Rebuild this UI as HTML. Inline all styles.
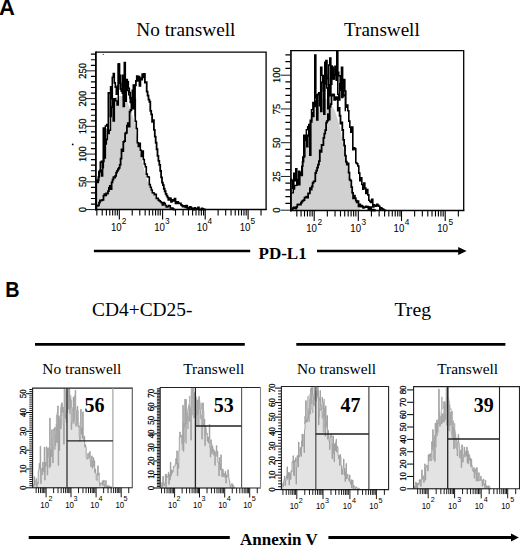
<!DOCTYPE html>
<html><head><meta charset="utf-8"><style>html,body{margin:0;padding:0;background:#fff;width:520px;height:546px;overflow:hidden}</style></head><body>
<svg width="520" height="546" viewBox="0 0 520 546" style="display:block">
<rect width="520" height="546" fill="#fff"/>
<circle cx="72.7" cy="144.4" r="0.9" fill="#000"/>
<circle cx="103.3" cy="54.4" r="0.6" fill="#444"/>
<text x="-1.00" y="15.20" font-family="Liberation Sans" font-size="22" font-weight="bold" text-anchor="start" fill="#000" >A</text>
<text transform="translate(5.3,296.8) scale(0.88,1)" font-family="Liberation Sans" font-size="22.5" font-weight="bold" fill="#000">B</text>
<text x="185.90" y="35.90" font-family="Liberation Serif" font-size="19.3" font-weight="normal" text-anchor="middle" fill="#000" >No transwell</text>
<text x="381.90" y="35.90" font-family="Liberation Serif" font-size="19.1" font-weight="normal" text-anchor="middle" fill="#000" >Transwell</text>
<text x="142.30" y="316.20" font-family="Liberation Serif" font-size="19.4" font-weight="normal" text-anchor="middle" fill="#000" >CD4+CD25-</text>
<text x="412.75" y="315.60" font-family="Liberation Serif" font-size="19.7" font-weight="normal" text-anchor="middle" fill="#000" >Treg</text>
<text x="81.85" y="373.80" font-family="Liberation Serif" font-size="15.4" font-weight="normal" text-anchor="middle" fill="#000" >No transwell</text>
<text x="213.70" y="373.80" font-family="Liberation Serif" font-size="15.4" font-weight="normal" text-anchor="middle" fill="#000" >Transwell</text>
<text x="336.50" y="373.80" font-family="Liberation Serif" font-size="15.4" font-weight="normal" text-anchor="middle" fill="#000" >No transwell</text>
<text x="467.65" y="373.80" font-family="Liberation Serif" font-size="15.4" font-weight="normal" text-anchor="middle" fill="#000" >Transwell</text>
<text x="282.60" y="258.90" font-family="Liberation Serif" font-size="17" font-weight="bold" text-anchor="middle" fill="#000" >PD-L1</text>
<text x="278.90" y="544.60" font-family="Liberation Serif" font-size="17" font-weight="bold" text-anchor="middle" fill="#000" >Annexin V</text>
<line x1="93.90" y1="251.00" x2="250.20" y2="251.00" stroke="#000" stroke-width="2.6"/>
<line x1="317.00" y1="251.00" x2="459.50" y2="251.00" stroke="#000" stroke-width="2.6"/>
<path d="M458.2,247.0 L466.6,251.0 L458.2,255.0Z" fill="#000"/>
<line x1="35.00" y1="344.30" x2="244.80" y2="344.30" stroke="#000" stroke-width="2.7"/>
<line x1="296.30" y1="344.30" x2="505.40" y2="344.30" stroke="#000" stroke-width="2.7"/>
<line x1="28.70" y1="537.50" x2="229.80" y2="537.50" stroke="#000" stroke-width="3.0"/>
<line x1="328.40" y1="537.50" x2="512.00" y2="537.50" stroke="#000" stroke-width="3.0"/>
<path d="M511.0,533.5 L518.8,537.5 L511.0,541.5Z" fill="#000"/>
<path d="M96.30,209.60 L96.30,181.00 L99.00,177.00 L101.00,167.00 L104.00,149.00 L106.00,139.00 L108.00,125.00 L110.00,111.00 L112.00,101.00 L114.00,98.00 L117.00,97.00 L120.00,96.00 L123.00,96.00 L126.00,99.00 L129.00,106.00 L132.00,114.00 L134.50,122.00 L136.50,135.00 L138.50,146.00 L141.00,156.00 L143.50,167.00 L146.50,178.00 L150.00,188.00 L154.00,195.00 L159.00,201.00 L165.00,205.00 L171.00,208.00 L174.00,209.60Z" fill="#d1d1d1"/>
<path d="M96.30,209.60V205.63H97.20V205.82H98.10V205.28H99.00V202.56H99.90V200.44H100.80V200.67H101.70V200.16H102.60V199.79H103.50V195.62H104.40V194.12H105.30V195.31H106.20V193.43H107.10V193.49H108.00V191.13H108.90V187.85H109.80V185.98H110.70V189.07H111.60V182.40H112.50V179.69H113.40V177.21H114.30V177.68H115.20V175.89H116.10V172.62H117.00V170.85H117.90V169.23H118.80V167.81H119.70V164.92H120.60V158.58H121.50V149.49H122.40V151.16H123.30V141.97H124.20V141.10H125.10V133.39H126.00V132.76H126.90V125.75H127.80V123.11H128.70V126.70H129.60V111.62H130.50V110.00H131.40V99.03H132.30V97.59H133.20V95.23H134.10V87.50H135.00V85.43H135.90V80.95H136.80V76.11H137.70V80.96H138.60V76.61H139.50V85.96H140.40V78.25H141.30V79.71H142.20V74.23H143.10V77.37H144.00V73.84H144.90V82.58H145.80V82.19H146.70V91.54H147.60V95.59H148.50V99.54H149.40V101.75H150.30V110.92H151.20V114.31H152.10V121.92H153.00V120.23H153.90V129.78H154.80V136.69H155.70V142.76H156.60V149.25H157.50V155.96H158.40V160.95H159.30V164.79H160.20V170.78H161.10V177.37H162.00V182.62H162.90V185.13H163.80V188.74H164.70V191.27H165.60V193.95H166.50V195.55H167.40V197.42H168.30V199.78H169.20V198.12H170.10V198.39H171.00V201.79H171.90V199.79H172.80V200.80H173.70V200.80H174.60V198.70H175.50V203.47H176.40V203.18H177.30V201.85H178.20V203.26H179.10V203.44H180.00V203.29H180.90V204.95H181.80V205.71H182.70V206.58H183.60V206.39H184.50V205.98H185.40V207.32H186.30V205.68H187.20V207.74H188.10V208.64H189.00V207.73H189.90V206.80H190.80V207.59H191.70V208.53H192.60V208.86H193.50V209.58H194.40V207.94H195.30V208.65H196.20V209.12H197.10V208.64H198.00V207.29H198.90V209.35H199.80V209.60H200.70V209.55H201.60V208.43H202.50V208.86H203.40V209.37H204.30V209.60H205.20V209.60H206.00V209.60" stroke="#000" stroke-width="1.8" fill="none"/>
<path d="M96.30,209.60V179.95H97.30V182.52H98.30V177.02H99.30V171.98H100.30V162.20H101.30V161.42H102.30V167.69H103.30V128.00H104.30V157.87H105.30V144.07H106.30V139.37H107.30V129.27H108.30V92.87H109.30V93.00H110.30V116.53H111.30V107.15H112.30V77.24H113.30V73.61H114.30V82.91H115.30V87.21H116.30V94.21H117.30V86.08H118.30V64.00H119.30V75.34H120.30V89.04H121.30V91.17H122.30V75.29H123.30V106.43H124.30V62.50H125.30V101.15H126.30V79.49H127.30V81.68H128.30V88.38H129.30V92.44H130.30V102.41H131.30V98.03H132.30V90.20H133.30V84.93H134.30V99.01H135.30V121.18H136.30V128.55H137.30V142.68H138.30V146.46H139.30V143.25H140.30V150.19H141.30V156.43H142.30V151.09H143.30V159.50H144.30V164.03H145.30V166.68H146.30V174.09H147.30V176.78H148.30V177.00H149.30V184.62H150.30V187.29H151.30V190.04H152.30V192.79H153.30V193.03H154.30V194.67H155.30V194.25H156.30V198.35H157.30V198.35H158.30V200.11H159.30V200.86H160.30V201.81H161.30V202.77H162.30V204.93H163.30V202.54H164.30V203.60H165.30V205.48H166.30V206.85H167.30V206.69H168.30V205.62H169.30V205.88H170.30V207.98H171.30V207.97H172.30V208.30H173.30V209.36H174.30V209.60H175.00V209.60" stroke="#000" stroke-width="1.6" fill="none"/>
<path d="M97.50,180.57H98.80V171.17H100.10V169.97H101.40V175.93H102.70V161.50H104.00V154.32H105.30V125.99H106.60V124.44H107.90V133.58H109.20V130.26H110.50V86.74H111.80V98.80H113.10V120.97H114.40V98.58H115.70V100.85H117.00V105.07H118.30V64.00H119.60V83.26H120.90V89.58H122.20V93.36H123.50V99.22H124.80V94.39H126.10V80.36H127.40V90.53H128.70V94.89H130.00V98.30H131.30V99.05H132.60V108.69H133.90V88.59H135.20V115.82H135.50" stroke="#000" stroke-width="1.4" fill="none"/>
<path d="M95.75,52.1H266.1V209.6" stroke="#000" stroke-width="1.3" fill="none"/>
<line x1="95.90" y1="51.50" x2="95.90" y2="210.50" stroke="#000" stroke-width="1.8"/>
<line x1="95.00" y1="209.60" x2="266.80" y2="209.60" stroke="#000" stroke-width="1.5"/>
<path d="M90.90,204.05H95.20M90.90,198.50H95.20M90.90,192.95H95.20M90.90,187.40H95.20M90.90,176.30H95.20M90.90,170.75H95.20M90.90,165.20H95.20M90.90,159.65H95.20M90.90,148.55H95.20M90.90,143.00H95.20M90.90,137.45H95.20M90.90,131.90H95.20M90.90,120.80H95.20M90.90,115.25H95.20M90.90,109.70H95.20M90.90,104.15H95.20M90.90,93.05H95.20M90.90,87.50H95.20M90.90,81.95H95.20M90.90,76.40H95.20M90.90,65.30H95.20M90.90,59.75H95.20M90.90,54.20H95.20" stroke="#000" stroke-width="1.2" fill="none"/>
<path d="M85.60,209.60H95.20M85.60,181.85H95.20M85.60,154.10H95.20M85.60,126.35H95.20M85.60,98.60H95.20M85.60,70.85H95.20" stroke="#000" stroke-width="0.9" fill="none"/>
<text transform="translate(82.20,209.60) rotate(-90)" font-family="Liberation Serif" font-size="10.5" text-anchor="middle" dominant-baseline="central" fill="#000" stroke="#000" stroke-width="0.3">0</text>
<text transform="translate(82.20,181.85) rotate(-90)" font-family="Liberation Serif" font-size="10.5" text-anchor="middle" dominant-baseline="central" fill="#000" stroke="#000" stroke-width="0.3">50</text>
<text transform="translate(82.20,154.10) rotate(-90)" font-family="Liberation Serif" font-size="10.5" text-anchor="middle" dominant-baseline="central" fill="#000" stroke="#000" stroke-width="0.3">100</text>
<text transform="translate(82.20,126.35) rotate(-90)" font-family="Liberation Serif" font-size="10.5" text-anchor="middle" dominant-baseline="central" fill="#000" stroke="#000" stroke-width="0.3">150</text>
<text transform="translate(82.20,98.60) rotate(-90)" font-family="Liberation Serif" font-size="10.5" text-anchor="middle" dominant-baseline="central" fill="#000" stroke="#000" stroke-width="0.3">200</text>
<text transform="translate(82.20,70.85) rotate(-90)" font-family="Liberation Serif" font-size="10.5" text-anchor="middle" dominant-baseline="central" fill="#000" stroke="#000" stroke-width="0.3">250</text>
<path d="M96.85,209.60V215.40M102.22,209.60V215.40M106.38,209.60V215.40M109.78,209.60V215.40M112.65,209.60V215.40M115.14,209.60V215.40M117.34,209.60V215.40M132.22,209.60V215.40M139.78,209.60V215.40M145.15,209.60V215.40M149.31,209.60V215.40M152.71,209.60V215.40M155.58,209.60V215.40M158.07,209.60V215.40M160.27,209.60V215.40M175.52,209.60V215.40M183.08,209.60V215.40M188.45,209.60V215.40M192.61,209.60V215.40M196.01,209.60V215.40M198.88,209.60V215.40M201.37,209.60V215.40M203.57,209.60V215.40M218.12,209.60V215.40M225.68,209.60V215.40M231.05,209.60V215.40M235.21,209.60V215.40M238.61,209.60V215.40M241.48,209.60V215.40M243.97,209.60V215.40M246.17,209.60V215.40M261.02,209.60V215.40M119.30,209.60V219.60M162.60,209.60V219.60M205.20,209.60V219.60M248.10,209.60V219.60" stroke="#000" stroke-width="1.1" fill="none"/>
<text transform="translate(116.30,230.80) scale(0.93,1)" font-family="Liberation Sans" font-size="10.4" text-anchor="middle" fill="#000">10</text>
<text x="121.70" y="223.90" font-family="Liberation Sans" font-size="8.3" font-weight="normal" text-anchor="start" fill="#000" >2</text>
<text transform="translate(159.60,230.80) scale(0.93,1)" font-family="Liberation Sans" font-size="10.4" text-anchor="middle" fill="#000">10</text>
<text x="165.00" y="223.90" font-family="Liberation Sans" font-size="8.3" font-weight="normal" text-anchor="start" fill="#000" >3</text>
<text transform="translate(202.20,230.80) scale(0.93,1)" font-family="Liberation Sans" font-size="10.4" text-anchor="middle" fill="#000">10</text>
<text x="207.60" y="223.90" font-family="Liberation Sans" font-size="8.3" font-weight="normal" text-anchor="start" fill="#000" >4</text>
<text transform="translate(245.10,230.80) scale(0.93,1)" font-family="Liberation Sans" font-size="10.4" text-anchor="middle" fill="#000">10</text>
<text x="250.50" y="223.90" font-family="Liberation Sans" font-size="8.3" font-weight="normal" text-anchor="start" fill="#000" >5</text>
<path d="M290.80,210.60 L290.80,190.00 L294.00,188.00 L297.00,182.00 L300.00,174.00 L302.00,166.00 L304.00,155.00 L306.00,142.00 L308.00,130.00 L311.00,116.00 L314.00,105.00 L318.00,100.50 L322.00,99.00 L326.00,99.00 L329.00,101.00 L332.00,106.00 L335.00,111.00 L338.00,120.00 L341.00,132.00 L343.00,145.00 L345.00,158.00 L347.00,168.00 L349.00,179.00 L352.00,190.00 L355.00,198.00 L358.00,205.00 L361.00,210.60Z" fill="#d1d1d1"/>
<path d="M291.00,210.60V210.21H291.90V210.13H292.80V208.15H293.70V207.51H294.60V207.96H295.50V208.62H296.40V206.84H297.30V204.70H298.20V204.46H299.10V204.44H300.00V204.70H300.90V202.73H301.80V201.41H302.70V200.69H303.60V200.14H304.50V197.67H305.40V197.51H306.30V196.71H307.20V197.66H308.10V193.46H309.00V193.38H309.90V188.16H310.80V189.71H311.70V186.49H312.60V182.89H313.50V181.64H314.40V181.14H315.30V173.02H316.20V170.66H317.10V167.70H318.00V164.56H318.90V161.18H319.80V150.42H320.70V151.73H321.60V144.91H322.50V145.12H323.40V137.89H324.30V133.67H325.20V130.03H326.10V122.63H327.00V120.88H327.90V114.04H328.80V119.50H329.70V106.48H330.60V104.07H331.50V95.52H332.40V94.42H333.30V94.63H334.20V99.82H335.10V99.37H336.00V97.20H336.90V97.62H337.80V110.65H338.70V107.81H339.60V115.73H340.50V123.71H341.40V122.39H342.30V129.98H343.20V139.96H344.10V145.58H345.00V155.64H345.90V161.76H346.80V164.59H347.70V163.44H348.60V172.64H349.50V179.60H350.40V180.70H351.30V187.17H352.20V192.82H353.10V198.29H354.00V195.62H354.90V198.19H355.80V200.55H356.70V202.24H357.60V201.27H358.50V206.29H359.40V204.30H360.30V206.57H361.20V205.55H362.10V206.45H363.00V207.95H363.90V207.31H364.80V207.07H365.70V206.36H366.60V206.98H367.50V206.66H368.40V209.78H369.30V207.34H370.20V207.03H371.10V210.35H372.00V210.40H372.90V209.76H373.80V210.60H374.70V210.24H375.00V210.60" stroke="#000" stroke-width="1.8" fill="none"/>
<path d="M290.80,210.60V179.52H291.80V180.73H292.80V188.10H293.80V173.42H294.80V180.73H295.80V168.68H296.80V184.68H297.80V179.51H298.80V184.60H299.80V172.56H300.80V175.07H301.80V166.21H302.80V157.15H303.80V156.75H304.80V136.21H305.80V138.95H306.80V146.80H307.80V135.30H308.80V124.64H309.80V155.16H310.80V121.90H311.80V112.50H312.80V116.34H313.80V106.32H314.80V55.00H315.80V97.68H316.80V120.06H317.80V94.20H318.80V92.92H319.80V96.13H320.80V111.47H321.80V82.19H322.80V75.72H323.80V114.14H324.80V62.33H325.80V75.20H326.80V88.02H327.80V108.68H328.80V65.01H329.80V58.00H330.80V84.17H331.80V66.87H332.80V67.94H333.80V78.89H334.80V74.77H335.80V74.63H336.80V51.50H337.80V94.23H338.80V99.94H339.80V83.77H340.80V80.46H341.80V97.45H342.80V95.92H343.80V79.48H344.80V90.93H345.80V107.25H346.80V104.96H347.80V110.71H348.80V121.11H349.80V127.09H350.80V132.10H351.80V127.03H352.80V149.71H353.80V147.88H354.80V148.92H355.80V162.73H356.80V163.75H357.80V165.95H358.80V173.17H359.80V180.73H360.80V177.89H361.80V184.48H362.80V189.29H363.80V183.06H364.80V187.93H365.80V193.54H366.80V189.44H367.80V194.91H368.80V200.20H369.80V201.47H370.80V202.43H371.80V199.41H372.80V206.99H373.80V204.89H374.80V205.91H375.80V206.25H376.80V204.32H377.80V205.35H378.80V206.18H379.80V209.75H380.80V207.71H381.80V208.73H382.80V209.24H383.80V210.15H384.80V210.46H385.80V210.59H386.00V210.60" stroke="#000" stroke-width="1.6" fill="none"/>
<path d="M292.00,192.90H293.30V188.99H294.60V185.43H295.90V185.38H297.20V182.78H298.50V171.28H299.80V173.62H301.10V175.56H302.40V161.69H303.70V135.24H305.00V140.48H306.30V129.71H307.60V126.59H308.90V136.34H310.20V120.19H311.50V109.79H312.80V102.39H314.10V106.50H315.40V100.86H316.70V94.72H318.00V94.86H319.30V105.80H320.60V67.24H321.90V75.39H323.20V90.86H324.50V84.13H325.80V60.39H327.10V78.68H328.40V84.81H329.70V95.70H331.00V65.96H332.30V79.14H333.60V75.39H334.90V66.15H336.20V80.21H337.50V72.29H338.80V75.73H340.10V90.41H341.40V67.32H342.70V94.41H344.00V95.59H345.30V110.52H346.00" stroke="#000" stroke-width="1.4" fill="none"/>
<path d="M290.8,50.7H463.7V210.6" stroke="#000" stroke-width="1.3" fill="none"/>
<line x1="290.95" y1="50.00" x2="290.95" y2="211.50" stroke="#000" stroke-width="1.6"/>
<line x1="290.00" y1="210.60" x2="464.40" y2="210.60" stroke="#000" stroke-width="1.5"/>
<path d="M285.40,203.45H290.40M285.40,196.70H290.40M285.40,189.95H290.40M285.40,183.20H290.40M285.40,169.70H290.40M285.40,162.95H290.40M285.40,156.20H290.40M285.40,149.45H290.40M285.40,135.95H290.40M285.40,129.20H290.40M285.40,122.45H290.40M285.40,115.70H290.40M285.40,102.20H290.40M285.40,95.45H290.40M285.40,88.70H290.40M285.40,81.95H290.40M285.40,68.45H290.40M285.40,61.70H290.40M285.40,54.95H290.40" stroke="#000" stroke-width="1.2" fill="none"/>
<path d="M280.80,210.20H290.40M280.80,176.45H290.40M280.80,142.70H290.40M280.80,108.95H290.40M280.80,75.20H290.40" stroke="#000" stroke-width="0.9" fill="none"/>
<text transform="translate(276.90,210.20) rotate(-90)" font-family="Liberation Serif" font-size="10.5" text-anchor="middle" dominant-baseline="central" fill="#000" stroke="#000" stroke-width="0.3">0</text>
<text transform="translate(276.90,176.45) rotate(-90)" font-family="Liberation Serif" font-size="10.5" text-anchor="middle" dominant-baseline="central" fill="#000" stroke="#000" stroke-width="0.3">25</text>
<text transform="translate(276.90,142.70) rotate(-90)" font-family="Liberation Serif" font-size="10.5" text-anchor="middle" dominant-baseline="central" fill="#000" stroke="#000" stroke-width="0.3">50</text>
<text transform="translate(276.90,108.95) rotate(-90)" font-family="Liberation Serif" font-size="10.5" text-anchor="middle" dominant-baseline="central" fill="#000" stroke="#000" stroke-width="0.3">75</text>
<text transform="translate(276.90,75.20) rotate(-90)" font-family="Liberation Serif" font-size="10.5" text-anchor="middle" dominant-baseline="central" fill="#000" stroke="#000" stroke-width="0.3">100</text>
<path d="M296.82,210.60V216.60M301.06,210.60V216.60M304.51,210.60V216.60M307.44,210.60V216.60M309.97,210.60V216.60M312.20,210.60V216.60M327.34,210.60V216.60M335.03,210.60V216.60M340.49,210.60V216.60M344.72,210.60V216.60M348.18,210.60V216.60M351.10,210.60V216.60M353.63,210.60V216.60M355.87,210.60V216.60M371.44,210.60V216.60M379.13,210.60V216.60M384.59,210.60V216.60M388.82,210.60V216.60M392.28,210.60V216.60M395.20,210.60V216.60M397.73,210.60V216.60M399.97,210.60V216.60M414.64,210.60V216.60M422.33,210.60V216.60M427.79,210.60V216.60M432.02,210.60V216.60M435.48,210.60V216.60M438.40,210.60V216.60M440.93,210.60V216.60M443.17,210.60V216.60M458.34,210.60V216.60M314.20,210.60V221.10M358.30,210.60V221.10M401.50,210.60V221.10M445.20,210.60V221.10" stroke="#000" stroke-width="1.1" fill="none"/>
<text transform="translate(311.60,231.80) scale(0.93,1)" font-family="Liberation Sans" font-size="10.4" text-anchor="middle" fill="#000">10</text>
<text x="317.40" y="224.90" font-family="Liberation Sans" font-size="8.3" font-weight="normal" text-anchor="start" fill="#000" >2</text>
<text transform="translate(355.70,231.80) scale(0.93,1)" font-family="Liberation Sans" font-size="10.4" text-anchor="middle" fill="#000">10</text>
<text x="361.50" y="224.90" font-family="Liberation Sans" font-size="8.3" font-weight="normal" text-anchor="start" fill="#000" >3</text>
<text transform="translate(398.90,231.80) scale(0.93,1)" font-family="Liberation Sans" font-size="10.4" text-anchor="middle" fill="#000">10</text>
<text x="404.70" y="224.90" font-family="Liberation Sans" font-size="8.3" font-weight="normal" text-anchor="start" fill="#000" >4</text>
<text transform="translate(442.60,231.80) scale(0.93,1)" font-family="Liberation Sans" font-size="10.4" text-anchor="middle" fill="#000">10</text>
<text x="448.40" y="224.90" font-family="Liberation Sans" font-size="8.3" font-weight="normal" text-anchor="start" fill="#000" >5</text>
<path d="M33.20,487.80V487.62H33.70V484.42H34.20V476.57H34.70V485.55H35.20V481.11H35.70V480.62H36.20V478.61H36.70V487.56H37.20V482.29H37.70V483.90H38.20V471.48H38.70V469.12H39.20V463.37H39.70V468.76H40.20V446.41H40.70V483.62H41.20V469.55H41.70V468.21H42.20V474.76H42.70V462.10H43.20V467.26H43.70V471.73H44.20V447.20H44.70V480.14H45.20V462.43H45.70V466.24H46.20V446.77H46.70V449.88H47.20V475.06H47.70V447.92H48.20V447.92H48.70V457.30H49.20V467.88H49.70V418.14H50.20V466.35H50.70V449.55H51.20V456.58H51.70V429.64H52.20V446.18H52.70V462.92H53.20V437.87H53.70V428.96H54.20V430.24H54.70V427.45H55.20V445.69H55.70V435.73H56.20V424.20H56.70V442.43H57.20V412.54H57.70V405.92H58.20V465.37H58.70V415.77H59.20V450.48H59.70V422.04H60.20V418.26H60.70V428.85H61.20V404.39H61.70V402.82H62.20V411.80H62.70V407.06H63.20V424.43H63.70V444.34H64.20V388.70H64.70V390.85H65.20V418.48H65.70V412.35H66.20V422.61H66.70V390.12H67.20V412.46H67.70V401.89H68.20V388.70H68.70V409.05H69.20V388.70H69.70V409.54H70.20V397.48H70.70V401.07H71.20V429.53H71.70V422.62H72.20V409.99H72.70V410.10H73.20V397.08H73.70V421.64H74.20V415.12H74.70V398.65H75.20V390.25H75.70V410.28H76.20V410.58H76.70V424.72H77.20V406.24H77.70V410.46H78.20V426.91H78.70V425.81H79.20V437.06H79.70V441.05H80.20V422.25H80.70V409.19H81.20V434.20H81.70V427.85H82.20V438.39H82.70V411.90H83.20V437.60H83.70V440.63H84.20V436.06H84.70V447.06H85.20V444.74H85.70V447.17H86.20V457.60H86.70V458.75H87.20V459.14H87.70V453.61H88.20V453.26H88.70V458.13H89.20V457.71H89.70V451.44H90.20V461.33H90.70V466.56H91.20V458.84H91.70V455.93H92.20V468.27H92.70V460.92H93.20V457.69H93.70V466.65H94.20V460.78H94.70V472.45H95.20V468.96H95.70V473.41H96.20V479.76H96.70V480.34H97.20V475.09H97.70V465.76H98.20V475.08H98.70V472.96H99.20V482.71H99.70V486.06H100.20V483.02H100.70V483.21H101.20V483.29H101.70V484.16H102.20V480.90H102.70V485.65H103.20V482.14H103.70V480.05H104.20V484.21H104.70V487.80H105.20V484.33H105.70V480.58H106.20V487.80H106.70V486.23H107.20V487.16H107.70V485.23H108.20V487.43H108.70V487.80H109.20V485.95H109.70V487.80H110.20V487.80H110.70V486.64H111.20V487.80H111.70V487.80H112.00V487.80Z" fill="#e3e3e3" stroke="#9c9c9c" stroke-width="0.9"/>
<path d="M54.00,430.47H54.60V449.50H55.20V440.13H55.80V436.25H56.40V415.10H57.00V442.44H57.60V420.38H58.20V437.40H58.80V430.12H59.40V427.41H60.00V417.99H60.60V407.60H61.20V416.06H61.80V404.87H62.40V407.03H63.00V412.70H63.60V410.63H64.20V411.47H64.80V411.89H65.40V414.57H66.00V388.70H66.60V392.35H67.20V389.54H67.80V388.70H68.40V403.03H69.00V401.77H69.60V413.78H70.20V395.21H70.80V400.02H71.40V407.07H72.00V408.13H72.60V409.76H73.20V423.89H73.80V419.03H74.40V395.60H75.00V423.96H75.60V426.49H76.20V412.28H76.80V418.42H77.40V425.52H78.00" fill="none" stroke="#a8a8a8" stroke-width="0.8"/>
<path d="M132.30,388.10H32.60V487.80H132.30" fill="none" stroke="#222" stroke-width="1.1"/>
<line x1="132.30" y1="387.55" x2="132.30" y2="488.35" stroke="#555" stroke-width="1.1"/>
<line x1="67.00" y1="388.10" x2="67.00" y2="487.80" stroke="#333" stroke-width="1.3"/>
<line x1="112.90" y1="388.10" x2="112.90" y2="487.80" stroke="#999" stroke-width="1.1"/>
<line x1="67.00" y1="440.80" x2="112.90" y2="440.80" stroke="#222" stroke-width="1.3"/>
<text x="94.40" y="411.80" font-family="Liberation Serif" font-size="20" font-weight="bold" text-anchor="middle" fill="#000" >56</text>
<path d="M29.30,485.71H32.30M29.30,483.62H32.30M29.30,481.53H32.30M29.30,479.44H32.30M29.30,477.34H32.30M29.30,475.25H32.30M29.30,473.16H32.30M29.30,471.07H32.30M29.30,466.89H32.30M29.30,464.80H32.30M29.30,462.71H32.30M29.30,460.62H32.30M29.30,458.52H32.30M29.30,456.43H32.30M29.30,454.34H32.30M29.30,452.25H32.30M29.30,448.07H32.30M29.30,445.98H32.30M29.30,443.89H32.30M29.30,441.80H32.30M29.30,439.70H32.30M29.30,437.61H32.30M29.30,435.52H32.30M29.30,433.43H32.30M29.30,429.25H32.30M29.30,427.16H32.30M29.30,425.07H32.30M29.30,422.98H32.30M29.30,420.88H32.30M29.30,418.79H32.30M29.30,416.70H32.30M29.30,414.61H32.30M29.30,410.43H32.30M29.30,408.34H32.30M29.30,406.25H32.30M29.30,404.16H32.30M29.30,402.06H32.30M29.30,399.97H32.30M29.30,397.88H32.30M29.30,395.79H32.30M29.30,391.61H32.30M29.30,389.52H32.30" stroke="#000" stroke-width="0.9" fill="none"/>
<path d="M26.10,487.80H32.30M26.10,468.98H32.30M26.10,450.16H32.30M26.10,431.34H32.30M26.10,412.52H32.30M26.10,393.70H32.30" stroke="#000" stroke-width="1.0" fill="none"/>
<text transform="translate(23.20,487.80) rotate(-90)" font-family="Liberation Serif" font-size="8.9" text-anchor="middle" dominant-baseline="central" fill="#000" stroke="#000" stroke-width="0.3">0</text>
<text transform="translate(23.20,468.98) rotate(-90)" font-family="Liberation Serif" font-size="8.9" text-anchor="middle" dominant-baseline="central" fill="#000" stroke="#000" stroke-width="0.3">10</text>
<text transform="translate(23.20,450.16) rotate(-90)" font-family="Liberation Serif" font-size="8.9" text-anchor="middle" dominant-baseline="central" fill="#000" stroke="#000" stroke-width="0.3">20</text>
<text transform="translate(23.20,431.34) rotate(-90)" font-family="Liberation Serif" font-size="8.9" text-anchor="middle" dominant-baseline="central" fill="#000" stroke="#000" stroke-width="0.3">30</text>
<text transform="translate(23.20,412.52) rotate(-90)" font-family="Liberation Serif" font-size="8.9" text-anchor="middle" dominant-baseline="central" fill="#000" stroke="#000" stroke-width="0.3">40</text>
<text transform="translate(23.20,393.70) rotate(-90)" font-family="Liberation Serif" font-size="8.9" text-anchor="middle" dominant-baseline="central" fill="#000" stroke="#000" stroke-width="0.3">50</text>
<path d="M36.14,487.80V493.10M38.56,487.80V493.10M40.55,487.80V493.10M42.22,487.80V493.10M43.67,487.80V493.10M44.95,487.80V493.10M53.64,487.80V493.10M58.04,487.80V493.10M61.17,487.80V493.10M63.60,487.80V493.10M65.58,487.80V493.10M67.26,487.80V493.10M68.71,487.80V493.10M69.99,487.80V493.10M78.54,487.80V493.10M82.94,487.80V493.10M86.07,487.80V493.10M88.50,487.80V493.10M90.48,487.80V493.10M92.16,487.80V493.10M93.61,487.80V493.10M94.89,487.80V493.10M103.64,487.80V493.10M108.04,487.80V493.10M111.17,487.80V493.10M113.60,487.80V493.10M115.58,487.80V493.10M117.26,487.80V493.10M118.71,487.80V493.10M119.99,487.80V493.10M128.74,487.80V493.10M46.10,487.80V497.30M71.00,487.80V497.30M96.10,487.80V497.30M121.20,487.80V497.30" stroke="#000" stroke-width="0.9" fill="none"/>
<text transform="translate(44.70,507.60) scale(0.84,1)" font-family="Liberation Sans" font-size="9.4" text-anchor="middle" fill="#000">10</text>
<text x="48.50" y="501.10" font-family="Liberation Sans" font-size="7.2" font-weight="normal" text-anchor="start" fill="#000" >2</text>
<text transform="translate(69.60,507.60) scale(0.84,1)" font-family="Liberation Sans" font-size="9.4" text-anchor="middle" fill="#000">10</text>
<text x="73.40" y="501.10" font-family="Liberation Sans" font-size="7.2" font-weight="normal" text-anchor="start" fill="#000" >3</text>
<text transform="translate(94.70,507.60) scale(0.84,1)" font-family="Liberation Sans" font-size="9.4" text-anchor="middle" fill="#000">10</text>
<text x="98.50" y="501.10" font-family="Liberation Sans" font-size="7.2" font-weight="normal" text-anchor="start" fill="#000" >4</text>
<text transform="translate(119.80,507.60) scale(0.84,1)" font-family="Liberation Sans" font-size="9.4" text-anchor="middle" fill="#000">10</text>
<text x="123.60" y="501.10" font-family="Liberation Sans" font-size="7.2" font-weight="normal" text-anchor="start" fill="#000" >5</text>
<path d="M160.80,488.00V488.00H161.30V486.78H161.80V482.54H162.30V488.00H162.80V476.31H163.30V482.24H163.80V485.69H164.30V484.00H164.80V483.32H165.30V474.38H165.80V488.00H166.30V474.36H166.80V477.28H167.30V476.91H167.80V476.18H168.30V472.28H168.80V484.46H169.30V474.51H169.80V479.87H170.30V462.15H170.80V476.02H171.30V469.72H171.80V473.33H172.30V470.95H172.80V471.61H173.30V466.50H173.80V466.75H174.30V466.15H174.80V465.86H175.30V463.34H175.80V458.50H176.30V463.96H176.80V450.86H177.30V475.91H177.80V463.40H178.30V468.43H178.80V450.80H179.30V436.78H179.80V431.99H180.30V437.19H180.80V436.68H181.30V437.04H181.80V434.96H182.30V443.67H182.80V405.32H183.30V451.32H183.80V423.66H184.30V427.17H184.80V399.22H185.30V424.03H185.80V399.54H186.30V423.91H186.80V419.23H187.30V416.01H187.80V409.36H188.30V406.78H188.80V404.93H189.30V421.30H189.80V408.38H190.30V409.53H190.80V440.11H191.30V406.62H191.80V392.17H192.30V388.10H192.80V388.10H193.30V407.77H193.80V417.93H194.30V393.07H194.80V392.27H195.30V403.87H195.80V407.30H196.30V415.31H196.80V404.00H197.30V400.18H197.80V413.98H198.30V399.82H198.80V396.49H199.30V400.94H199.80V409.45H200.30V409.80H200.80V414.94H201.30V416.94H201.80V439.15H202.30V423.36H202.80V402.75H203.30V410.80H203.80V425.94H204.30V419.18H204.80V445.68H205.30V425.97H205.80V428.36H206.30V434.23H206.80V433.30H207.30V441.14H207.80V436.88H208.30V442.99H208.80V438.00H209.30V424.50H209.80V447.43H210.30V457.03H210.80V439.74H211.30V443.55H211.80V453.81H212.30V445.90H212.80V451.09H213.30V449.29H213.80V455.29H214.30V450.95H214.80V465.34H215.30V453.11H215.80V451.70H216.30V445.58H216.80V456.41H217.30V451.34H217.80V462.10H218.30V462.79H218.80V475.80H219.30V457.55H219.80V463.90H220.30V469.88H220.80V454.85H221.30V469.79H221.80V476.74H222.30V469.00H222.80V469.66H223.30V476.56H223.80V473.22H224.30V474.11H224.80V477.31H225.30V471.32H225.80V483.09H226.30V474.88H226.80V477.09H227.30V476.52H227.80V469.75H228.30V474.10H228.80V479.17H229.30V481.10H229.80V485.28H230.30V488.00H230.80V485.34H231.30V483.98H231.80V483.57H232.30V488.00H232.80V484.86H233.30V486.48H233.80V488.00H234.30V487.38H234.80V487.74H235.00V488.00Z" fill="#e3e3e3" stroke="#9c9c9c" stroke-width="0.9"/>
<path d="M181.00,435.88H181.60V443.65H182.20V449.61H182.80V423.00H183.40V424.25H184.00V441.72H184.60V438.93H185.20V416.48H185.80V443.21H186.40V420.41H187.00V413.33H187.60V428.75H188.20V416.51H188.80V420.17H189.40V396.03H190.00V415.08H190.60V407.33H191.20V388.10H191.80V415.04H192.40V388.59H193.00V397.39H193.60V398.22H194.20V409.30H194.80V393.71H195.40V409.18H196.00V397.17H196.60V425.48H197.20V401.64H197.80V414.24H198.40V425.86H199.00V399.43H199.60V409.27H200.20V418.82H200.80V403.20H201.40V408.94H202.00V403.97H202.60V423.66H203.20V426.31H203.80V423.80H204.40V435.15H205.00" fill="none" stroke="#a8a8a8" stroke-width="0.8"/>
<path d="M260.50,387.50H160.20V488.00H260.50" fill="none" stroke="#222" stroke-width="1.1"/>
<line x1="260.50" y1="386.95" x2="260.50" y2="488.55" stroke="#888" stroke-width="1.1"/>
<line x1="195.40" y1="387.50" x2="195.40" y2="488.00" stroke="#222" stroke-width="1.3"/>
<line x1="241.60" y1="387.50" x2="241.60" y2="488.00" stroke="#555" stroke-width="1.1"/>
<line x1="195.40" y1="426.00" x2="241.60" y2="426.00" stroke="#222" stroke-width="1.3"/>
<text x="223.80" y="411.80" font-family="Liberation Serif" font-size="20" font-weight="bold" text-anchor="middle" fill="#000" >53</text>
<path d="M156.90,486.50H159.90M156.90,484.99H159.90M156.90,483.49H159.90M156.90,481.99H159.90M156.90,480.48H159.90M156.90,478.98H159.90M156.90,477.48H159.90M156.90,475.97H159.90M156.90,472.97H159.90M156.90,471.46H159.90M156.90,469.96H159.90M156.90,468.46H159.90M156.90,466.95H159.90M156.90,465.45H159.90M156.90,463.95H159.90M156.90,462.44H159.90M156.90,459.44H159.90M156.90,457.93H159.90M156.90,456.43H159.90M156.90,454.93H159.90M156.90,453.42H159.90M156.90,451.92H159.90M156.90,450.42H159.90M156.90,448.91H159.90M156.90,445.91H159.90M156.90,444.40H159.90M156.90,442.90H159.90M156.90,441.40H159.90M156.90,439.89H159.90M156.90,438.39H159.90M156.90,436.89H159.90M156.90,435.38H159.90M156.90,432.38H159.90M156.90,430.87H159.90M156.90,429.37H159.90M156.90,427.87H159.90M156.90,426.36H159.90M156.90,424.86H159.90M156.90,423.36H159.90M156.90,421.85H159.90M156.90,418.85H159.90M156.90,417.34H159.90M156.90,415.84H159.90M156.90,414.34H159.90M156.90,412.83H159.90M156.90,411.33H159.90M156.90,409.83H159.90M156.90,408.32H159.90M156.90,405.32H159.90M156.90,403.81H159.90M156.90,402.31H159.90M156.90,400.81H159.90M156.90,399.30H159.90M156.90,397.80H159.90M156.90,396.30H159.90M156.90,394.79H159.90M156.90,391.79H159.90M156.90,390.28H159.90M156.90,388.78H159.90" stroke="#000" stroke-width="0.9" fill="none"/>
<path d="M153.70,488.00H159.90M153.70,474.47H159.90M153.70,460.94H159.90M153.70,447.41H159.90M153.70,433.88H159.90M153.70,420.35H159.90M153.70,406.82H159.90M153.70,393.29H159.90" stroke="#000" stroke-width="1.0" fill="none"/>
<text transform="translate(151.00,488.00) rotate(-90)" font-family="Liberation Serif" font-size="8.9" text-anchor="middle" dominant-baseline="central" fill="#000" stroke="#000" stroke-width="0.3">0</text>
<text transform="translate(151.00,474.47) rotate(-90)" font-family="Liberation Serif" font-size="8.9" text-anchor="middle" dominant-baseline="central" fill="#000" stroke="#000" stroke-width="0.3">10</text>
<text transform="translate(151.00,460.94) rotate(-90)" font-family="Liberation Serif" font-size="8.9" text-anchor="middle" dominant-baseline="central" fill="#000" stroke="#000" stroke-width="0.3">20</text>
<text transform="translate(151.00,447.41) rotate(-90)" font-family="Liberation Serif" font-size="8.9" text-anchor="middle" dominant-baseline="central" fill="#000" stroke="#000" stroke-width="0.3">30</text>
<text transform="translate(151.00,433.88) rotate(-90)" font-family="Liberation Serif" font-size="8.9" text-anchor="middle" dominant-baseline="central" fill="#000" stroke="#000" stroke-width="0.3">40</text>
<text transform="translate(151.00,420.35) rotate(-90)" font-family="Liberation Serif" font-size="8.9" text-anchor="middle" dominant-baseline="central" fill="#000" stroke="#000" stroke-width="0.3">50</text>
<text transform="translate(151.00,406.82) rotate(-90)" font-family="Liberation Serif" font-size="8.9" text-anchor="middle" dominant-baseline="central" fill="#000" stroke="#000" stroke-width="0.3">60</text>
<text transform="translate(151.00,393.29) rotate(-90)" font-family="Liberation Serif" font-size="8.9" text-anchor="middle" dominant-baseline="central" fill="#000" stroke="#000" stroke-width="0.3">70</text>
<path d="M161.51,488.00V493.30M164.64,488.00V493.30M167.06,488.00V493.30M169.05,488.00V493.30M170.72,488.00V493.30M172.17,488.00V493.30M173.45,488.00V493.30M182.14,488.00V493.30M186.54,488.00V493.30M189.67,488.00V493.30M192.10,488.00V493.30M194.08,488.00V493.30M195.76,488.00V493.30M197.21,488.00V493.30M198.49,488.00V493.30M207.04,488.00V493.30M211.44,488.00V493.30M214.57,488.00V493.30M217.00,488.00V493.30M218.98,488.00V493.30M220.66,488.00V493.30M222.11,488.00V493.30M223.39,488.00V493.30M232.24,488.00V493.30M236.64,488.00V493.30M239.77,488.00V493.30M242.20,488.00V493.30M244.18,488.00V493.30M245.86,488.00V493.30M247.31,488.00V493.30M248.59,488.00V493.30M257.24,488.00V493.30M174.60,488.00V497.50M199.50,488.00V497.50M224.70,488.00V497.50M249.70,488.00V497.50" stroke="#000" stroke-width="0.9" fill="none"/>
<text transform="translate(172.50,507.80) scale(0.84,1)" font-family="Liberation Sans" font-size="9.4" text-anchor="middle" fill="#000">10</text>
<text x="176.60" y="501.30" font-family="Liberation Sans" font-size="7.2" font-weight="normal" text-anchor="start" fill="#000" >2</text>
<text transform="translate(197.40,507.80) scale(0.84,1)" font-family="Liberation Sans" font-size="9.4" text-anchor="middle" fill="#000">10</text>
<text x="201.50" y="501.30" font-family="Liberation Sans" font-size="7.2" font-weight="normal" text-anchor="start" fill="#000" >3</text>
<text transform="translate(222.60,507.80) scale(0.84,1)" font-family="Liberation Sans" font-size="9.4" text-anchor="middle" fill="#000">10</text>
<text x="226.70" y="501.30" font-family="Liberation Sans" font-size="7.2" font-weight="normal" text-anchor="start" fill="#000" >4</text>
<text transform="translate(247.60,507.80) scale(0.84,1)" font-family="Liberation Sans" font-size="9.4" text-anchor="middle" fill="#000">10</text>
<text x="251.70" y="501.30" font-family="Liberation Sans" font-size="7.2" font-weight="normal" text-anchor="start" fill="#000" >5</text>
<path d="M282.00,489.60V483.76H282.50V484.24H283.00V486.68H283.50V481.93H284.00V479.18H284.50V476.17H285.00V485.56H285.50V480.86H286.00V477.98H286.50V475.60H287.00V466.83H287.50V479.30H288.00V472.51H288.50V476.55H289.00V484.97H289.50V472.63H290.00V473.02H290.50V479.38H291.00V470.60H291.50V471.99H292.00V461.65H292.50V462.35H293.00V455.77H293.50V474.85H294.00V475.98H294.50V460.54H295.00V461.76H295.50V457.94H296.00V484.02H296.50V467.62H297.00V455.65H297.50V462.01H298.00V466.97H298.50V442.00H299.00V457.08H299.50V455.43H300.00V447.42H300.50V453.62H301.00V456.38H301.50V440.99H302.00V433.99H302.50V446.59H303.00V434.76H303.50V435.24H304.00V452.59H304.50V429.58H305.00V421.16H305.50V401.44H306.00V422.17H306.50V419.72H307.00V420.79H307.50V417.86H308.00V418.51H308.50V410.68H309.00V408.33H309.50V413.89H310.00V394.03H310.50V388.74H311.00V387.66H311.50V403.69H312.00V387.10H312.50V393.79H313.00V397.73H313.50V404.83H314.00V387.10H314.50V400.14H315.00V399.78H315.50V391.48H316.00V401.10H316.50V397.85H317.00V387.10H317.50V396.63H318.00V390.44H318.50V425.00H319.00V400.76H319.50V397.52H320.00V390.58H320.50V405.89H321.00V410.77H321.50V409.04H322.00V397.25H322.50V402.00H323.00V403.07H323.50V416.37H324.00V408.70H324.50V417.51H325.00V436.13H325.50V405.95H326.00V421.98H326.50V425.92H327.00V415.61H327.50V438.94H328.00V430.30H328.50V437.57H329.00V441.24H329.50V449.66H330.00V435.69H330.50V437.22H331.00V433.87H331.50V435.46H332.00V458.74H332.50V443.92H333.00V436.06H333.50V453.64H334.00V461.69H334.50V443.76H335.00V450.76H335.50V442.52H336.00V439.25H336.50V452.02H337.00V446.29H337.50V447.09H338.00V455.55H338.50V458.66H339.00V455.57H339.50V465.54H340.00V454.43H340.50V457.05H341.00V465.35H341.50V474.39H342.00V474.13H342.50V469.10H343.00V465.72H343.50V458.98H344.00V475.11H344.50V468.19H345.00V481.46H345.50V471.51H346.00V463.48H346.50V478.90H347.00V475.97H347.50V474.31H348.00V478.51H348.50V479.25H349.00V481.34H349.50V474.98H350.00V481.96H350.50V484.06H351.00V479.78H351.50V487.89H352.00V484.44H352.50V480.01H353.00V489.60H353.50V485.21H354.00V486.63H354.50V486.50H355.00V489.60H355.50V487.80H356.00V486.84H356.50V487.21H357.00V489.39H357.50V489.59H358.00V488.07H358.50V489.60H359.00V488.68H359.50V489.60H360.00V489.60Z" fill="#e3e3e3" stroke="#9c9c9c" stroke-width="0.9"/>
<path d="M304.00,416.53H304.60V423.67H305.20V422.25H305.80V400.37H306.40V408.02H307.00V421.82H307.60V397.15H308.20V396.15H308.80V421.69H309.40V399.48H310.00V414.08H310.60V391.47H311.20V400.87H311.80V409.50H312.40V412.74H313.00V400.36H313.60V403.93H314.20V405.89H314.80V399.01H315.40V399.87H316.00V400.51H316.60V390.86H317.20V387.71H317.80V387.10H318.40V399.10H319.00V416.66H319.60V408.36H320.20V409.66H320.80V406.04H321.40V405.09H322.00V418.31H322.60V412.04H323.20V432.26H323.80V399.28H324.40V427.07H325.00V424.97H325.60V416.76H326.20V425.84H326.80V427.92H327.40V439.07H328.00" fill="none" stroke="#a8a8a8" stroke-width="0.8"/>
<path d="M388.60,386.50H281.40V489.60H388.60" fill="none" stroke="#222" stroke-width="1.1"/>
<line x1="388.60" y1="385.95" x2="388.60" y2="490.15" stroke="#222" stroke-width="1.1"/>
<line x1="315.80" y1="386.50" x2="315.80" y2="489.60" stroke="#555" stroke-width="1.3"/>
<line x1="368.90" y1="386.50" x2="368.90" y2="489.60" stroke="#333" stroke-width="1.1"/>
<line x1="315.80" y1="434.00" x2="368.90" y2="434.00" stroke="#222" stroke-width="1.3"/>
<text x="350.50" y="411.80" font-family="Liberation Serif" font-size="20" font-weight="bold" text-anchor="middle" fill="#000" >47</text>
<path d="M278.10,486.70H281.10M278.10,483.80H281.10M278.10,480.90H281.10M278.10,478.00H281.10M278.10,472.20H281.10M278.10,469.30H281.10M278.10,466.40H281.10M278.10,463.50H281.10M278.10,457.70H281.10M278.10,454.80H281.10M278.10,451.90H281.10M278.10,449.00H281.10M278.10,443.20H281.10M278.10,440.30H281.10M278.10,437.40H281.10M278.10,434.50H281.10M278.10,428.70H281.10M278.10,425.80H281.10M278.10,422.90H281.10M278.10,420.00H281.10M278.10,414.20H281.10M278.10,411.30H281.10M278.10,408.40H281.10M278.10,405.50H281.10M278.10,399.70H281.10M278.10,396.80H281.10M278.10,393.90H281.10M278.10,391.00H281.10" stroke="#000" stroke-width="0.9" fill="none"/>
<path d="M274.90,489.60H281.10M274.90,475.10H281.10M274.90,460.60H281.10M274.90,446.10H281.10M274.90,431.60H281.10M274.90,417.10H281.10M274.90,402.60H281.10M274.90,388.10H281.10" stroke="#000" stroke-width="1.0" fill="none"/>
<text transform="translate(271.60,489.60) rotate(-90)" font-family="Liberation Serif" font-size="8.9" text-anchor="middle" dominant-baseline="central" fill="#000" stroke="#000" stroke-width="0.3">0</text>
<text transform="translate(271.60,475.10) rotate(-90)" font-family="Liberation Serif" font-size="8.9" text-anchor="middle" dominant-baseline="central" fill="#000" stroke="#000" stroke-width="0.3">10</text>
<text transform="translate(271.60,460.60) rotate(-90)" font-family="Liberation Serif" font-size="8.9" text-anchor="middle" dominant-baseline="central" fill="#000" stroke="#000" stroke-width="0.3">20</text>
<text transform="translate(271.60,446.10) rotate(-90)" font-family="Liberation Serif" font-size="8.9" text-anchor="middle" dominant-baseline="central" fill="#000" stroke="#000" stroke-width="0.3">30</text>
<text transform="translate(271.60,431.60) rotate(-90)" font-family="Liberation Serif" font-size="8.9" text-anchor="middle" dominant-baseline="central" fill="#000" stroke="#000" stroke-width="0.3">40</text>
<text transform="translate(271.60,417.10) rotate(-90)" font-family="Liberation Serif" font-size="8.9" text-anchor="middle" dominant-baseline="central" fill="#000" stroke="#000" stroke-width="0.3">50</text>
<text transform="translate(271.60,402.60) rotate(-90)" font-family="Liberation Serif" font-size="8.9" text-anchor="middle" dominant-baseline="central" fill="#000" stroke="#000" stroke-width="0.3">60</text>
<text transform="translate(271.60,388.10) rotate(-90)" font-family="Liberation Serif" font-size="8.9" text-anchor="middle" dominant-baseline="central" fill="#000" stroke="#000" stroke-width="0.3">70</text>
<path d="M282.93,489.60V494.90M286.24,489.60V494.90M288.81,489.60V494.90M290.91,489.60V494.90M292.69,489.60V494.90M294.23,489.60V494.90M295.59,489.60V494.90M304.79,489.60V494.90M309.46,489.60V494.90M312.77,489.60V494.90M315.35,489.60V494.90M317.45,489.60V494.90M319.22,489.60V494.90M320.76,489.60V494.90M322.12,489.60V494.90M330.99,489.60V494.90M335.66,489.60V494.90M338.97,489.60V494.90M341.55,489.60V494.90M343.65,489.60V494.90M345.42,489.60V494.90M346.96,489.60V494.90M348.32,489.60V494.90M357.89,489.60V494.90M362.56,489.60V494.90M365.87,489.60V494.90M368.45,489.60V494.90M370.55,489.60V494.90M372.32,489.60V494.90M373.86,489.60V494.90M375.22,489.60V494.90M384.39,489.60V494.90M296.80,489.60V499.10M323.00,489.60V499.10M349.90,489.60V499.10M376.40,489.60V499.10" stroke="#000" stroke-width="0.9" fill="none"/>
<text transform="translate(294.10,509.40) scale(0.84,1)" font-family="Liberation Sans" font-size="9.4" text-anchor="middle" fill="#000">10</text>
<text x="298.80" y="502.90" font-family="Liberation Sans" font-size="7.2" font-weight="normal" text-anchor="start" fill="#000" >2</text>
<text transform="translate(320.30,509.40) scale(0.84,1)" font-family="Liberation Sans" font-size="9.4" text-anchor="middle" fill="#000">10</text>
<text x="325.00" y="502.90" font-family="Liberation Sans" font-size="7.2" font-weight="normal" text-anchor="start" fill="#000" >3</text>
<text transform="translate(347.20,509.40) scale(0.84,1)" font-family="Liberation Sans" font-size="9.4" text-anchor="middle" fill="#000">10</text>
<text x="351.90" y="502.90" font-family="Liberation Sans" font-size="7.2" font-weight="normal" text-anchor="start" fill="#000" >4</text>
<text transform="translate(373.70,509.40) scale(0.84,1)" font-family="Liberation Sans" font-size="9.4" text-anchor="middle" fill="#000">10</text>
<text x="378.40" y="502.90" font-family="Liberation Sans" font-size="7.2" font-weight="normal" text-anchor="start" fill="#000" >5</text>
<path d="M414.20,488.80V486.19H414.70V487.31H415.20V488.80H415.70V482.08H416.20V488.23H416.70V483.69H417.20V488.34H417.70V483.10H418.20V483.00H418.70V484.58H419.20V479.72H419.70V481.27H420.20V479.79H420.70V486.56H421.20V480.63H421.70V469.92H422.20V479.28H422.70V477.87H423.20V475.82H423.70V482.65H424.20V480.04H424.70V463.89H425.20V480.16H425.70V467.88H426.20V466.80H426.70V465.15H427.20V466.10H427.70V471.03H428.20V454.76H428.70V460.97H429.20V454.58H429.70V456.81H430.20V453.51H430.70V460.82H431.20V460.04H431.70V441.65H432.20V450.02H432.70V429.65H433.20V443.98H433.70V447.42H434.20V435.58H434.70V461.37H435.20V439.29H435.70V423.43H436.20V434.20H436.70V420.09H437.20V432.08H437.70V423.02H438.20V423.17H438.70V389.10H439.20V409.42H439.70V426.40H440.20V424.81H440.70V423.63H441.20V415.38H441.70V423.44H442.20V420.86H442.70V413.60H443.20V421.97H443.70V419.27H444.20V401.83H444.70V414.72H445.20V419.58H445.70V406.83H446.20V387.86H446.70V406.24H447.20V412.02H447.70V387.20H448.20V397.74H448.70V401.03H449.20V425.78H449.70V419.20H450.20V412.34H450.70V425.14H451.20V423.25H451.70V411.29H452.20V422.14H452.70V434.21H453.20V426.66H453.70V448.95H454.20V429.14H454.70V431.54H455.20V434.36H455.70V437.78H456.20V438.74H456.70V449.33H457.20V455.97H457.70V441.93H458.20V434.47H458.70V442.94H459.20V447.08H459.70V458.06H460.20V452.84H460.70V450.07H461.20V467.55H461.70V444.82H462.20V445.63H462.70V462.16H463.20V457.76H463.70V454.42H464.20V447.18H464.70V456.88H465.20V456.65H465.70V451.23H466.20V455.99H466.70V447.09H467.20V462.88H467.70V450.87H468.20V463.86H468.70V454.29H469.20V455.21H469.70V460.38H470.20V457.95H470.70V466.78H471.20V459.38H471.70V465.45H472.20V469.09H472.70V470.72H473.20V471.64H473.70V467.49H474.20V478.29H474.70V469.88H475.20V468.87H475.70V473.58H476.20V480.94H476.70V467.54H477.20V473.04H477.70V481.22H478.20V476.93H478.70V472.67H479.20V480.21H479.70V480.78H480.20V479.01H480.70V476.20H481.20V480.12H481.70V479.95H482.20V486.16H482.70V480.37H483.20V479.01H483.70V484.76H484.20V483.82H484.70V487.73H485.20V480.08H485.70V485.31H486.20V487.98H486.70V486.19H487.20V487.32H487.70V485.99H488.20V488.80H488.70V485.79H489.20V487.84H489.70V487.92H490.20V488.22H490.70V488.80H491.00V488.80Z" fill="#e3e3e3" stroke="#9c9c9c" stroke-width="0.9"/>
<path d="M432.00,446.78H432.60V448.27H433.20V459.58H433.80V440.14H434.40V439.02H435.00V423.04H435.60V447.22H436.20V434.49H436.80V435.94H437.40V432.87H438.00V419.54H438.60V423.88H439.20V412.49H439.80V416.52H440.40V423.99H441.00V416.23H441.60V397.08H442.20V408.91H442.80V407.68H443.40V401.98H444.00V422.06H444.60V401.66H445.20V407.77H445.80V404.23H446.40V425.14H447.00V396.90H447.60V401.24H448.20V421.92H448.80V430.70H449.40V404.57H450.00V409.67H450.60V408.73H451.20V432.72H451.80V437.69H452.40V426.48H453.00V420.73H453.60V441.03H454.20V423.47H454.80V447.95H455.40V434.85H456.00" fill="none" stroke="#a8a8a8" stroke-width="0.8"/>
<path d="M519.50,386.60H413.60V488.80H519.50" fill="none" stroke="#222" stroke-width="1.1"/>
<line x1="519.50" y1="386.05" x2="519.50" y2="489.35" stroke="#222" stroke-width="1.1"/>
<line x1="447.70" y1="386.60" x2="447.70" y2="488.80" stroke="#222" stroke-width="1.3"/>
<line x1="499.50" y1="386.60" x2="499.50" y2="488.80" stroke="#222" stroke-width="1.1"/>
<line x1="447.70" y1="439.00" x2="499.50" y2="439.00" stroke="#222" stroke-width="1.3"/>
<text x="483.70" y="411.80" font-family="Liberation Serif" font-size="20" font-weight="bold" text-anchor="middle" fill="#000" >39</text>
<path d="M407.10,488.80H413.30M407.10,476.44H413.30M407.10,464.08H413.30M407.10,451.72H413.30M407.10,439.36H413.30M407.10,427.00H413.30M407.10,414.64H413.30M407.10,402.28H413.30M407.10,389.92H413.30" stroke="#000" stroke-width="1.0" fill="none"/>
<text transform="translate(402.90,488.80) rotate(-90)" font-family="Liberation Serif" font-size="8.9" text-anchor="middle" dominant-baseline="central" fill="#000" stroke="#000" stroke-width="0.3">0</text>
<text transform="translate(402.90,476.44) rotate(-90)" font-family="Liberation Serif" font-size="8.9" text-anchor="middle" dominant-baseline="central" fill="#000" stroke="#000" stroke-width="0.3">10</text>
<text transform="translate(402.90,464.08) rotate(-90)" font-family="Liberation Serif" font-size="8.9" text-anchor="middle" dominant-baseline="central" fill="#000" stroke="#000" stroke-width="0.3">20</text>
<text transform="translate(402.90,451.72) rotate(-90)" font-family="Liberation Serif" font-size="8.9" text-anchor="middle" dominant-baseline="central" fill="#000" stroke="#000" stroke-width="0.3">30</text>
<text transform="translate(402.90,439.36) rotate(-90)" font-family="Liberation Serif" font-size="8.9" text-anchor="middle" dominant-baseline="central" fill="#000" stroke="#000" stroke-width="0.3">40</text>
<text transform="translate(402.90,427.00) rotate(-90)" font-family="Liberation Serif" font-size="8.9" text-anchor="middle" dominant-baseline="central" fill="#000" stroke="#000" stroke-width="0.3">50</text>
<text transform="translate(402.90,414.64) rotate(-90)" font-family="Liberation Serif" font-size="8.9" text-anchor="middle" dominant-baseline="central" fill="#000" stroke="#000" stroke-width="0.3">60</text>
<text transform="translate(402.90,402.28) rotate(-90)" font-family="Liberation Serif" font-size="8.9" text-anchor="middle" dominant-baseline="central" fill="#000" stroke="#000" stroke-width="0.3">70</text>
<text transform="translate(402.90,389.92) rotate(-90)" font-family="Liberation Serif" font-size="8.9" text-anchor="middle" dominant-baseline="central" fill="#000" stroke="#000" stroke-width="0.3">80</text>
<path d="M417.65,488.80V494.10M420.22,488.80V494.10M422.32,488.80V494.10M424.10,488.80V494.10M425.63,488.80V494.10M426.99,488.80V494.10M436.18,488.80V494.10M440.84,488.80V494.10M444.15,488.80V494.10M446.72,488.80V494.10M448.82,488.80V494.10M450.60,488.80V494.10M452.13,488.80V494.10M453.49,488.80V494.10M462.58,488.80V494.10M467.24,488.80V494.10M470.55,488.80V494.10M473.12,488.80V494.10M475.22,488.80V494.10M477.00,488.80V494.10M478.53,488.80V494.10M479.89,488.80V494.10M489.18,488.80V494.10M493.84,488.80V494.10M497.15,488.80V494.10M499.72,488.80V494.10M501.82,488.80V494.10M503.60,488.80V494.10M505.13,488.80V494.10M506.49,488.80V494.10M515.68,488.80V494.10M428.20,488.80V498.30M454.60,488.80V498.30M481.20,488.80V498.30M507.70,488.80V498.30" stroke="#000" stroke-width="0.9" fill="none"/>
<text transform="translate(426.10,508.60) scale(0.84,1)" font-family="Liberation Sans" font-size="9.4" text-anchor="middle" fill="#000">10</text>
<text x="430.80" y="502.10" font-family="Liberation Sans" font-size="7.2" font-weight="normal" text-anchor="start" fill="#000" >2</text>
<text transform="translate(452.50,508.60) scale(0.84,1)" font-family="Liberation Sans" font-size="9.4" text-anchor="middle" fill="#000">10</text>
<text x="457.20" y="502.10" font-family="Liberation Sans" font-size="7.2" font-weight="normal" text-anchor="start" fill="#000" >3</text>
<text transform="translate(479.10,508.60) scale(0.84,1)" font-family="Liberation Sans" font-size="9.4" text-anchor="middle" fill="#000">10</text>
<text x="483.80" y="502.10" font-family="Liberation Sans" font-size="7.2" font-weight="normal" text-anchor="start" fill="#000" >4</text>
<text transform="translate(505.60,508.60) scale(0.84,1)" font-family="Liberation Sans" font-size="9.4" text-anchor="middle" fill="#000">10</text>
<text x="510.30" y="502.10" font-family="Liberation Sans" font-size="7.2" font-weight="normal" text-anchor="start" fill="#000" >5</text>
</svg>
</body></html>
